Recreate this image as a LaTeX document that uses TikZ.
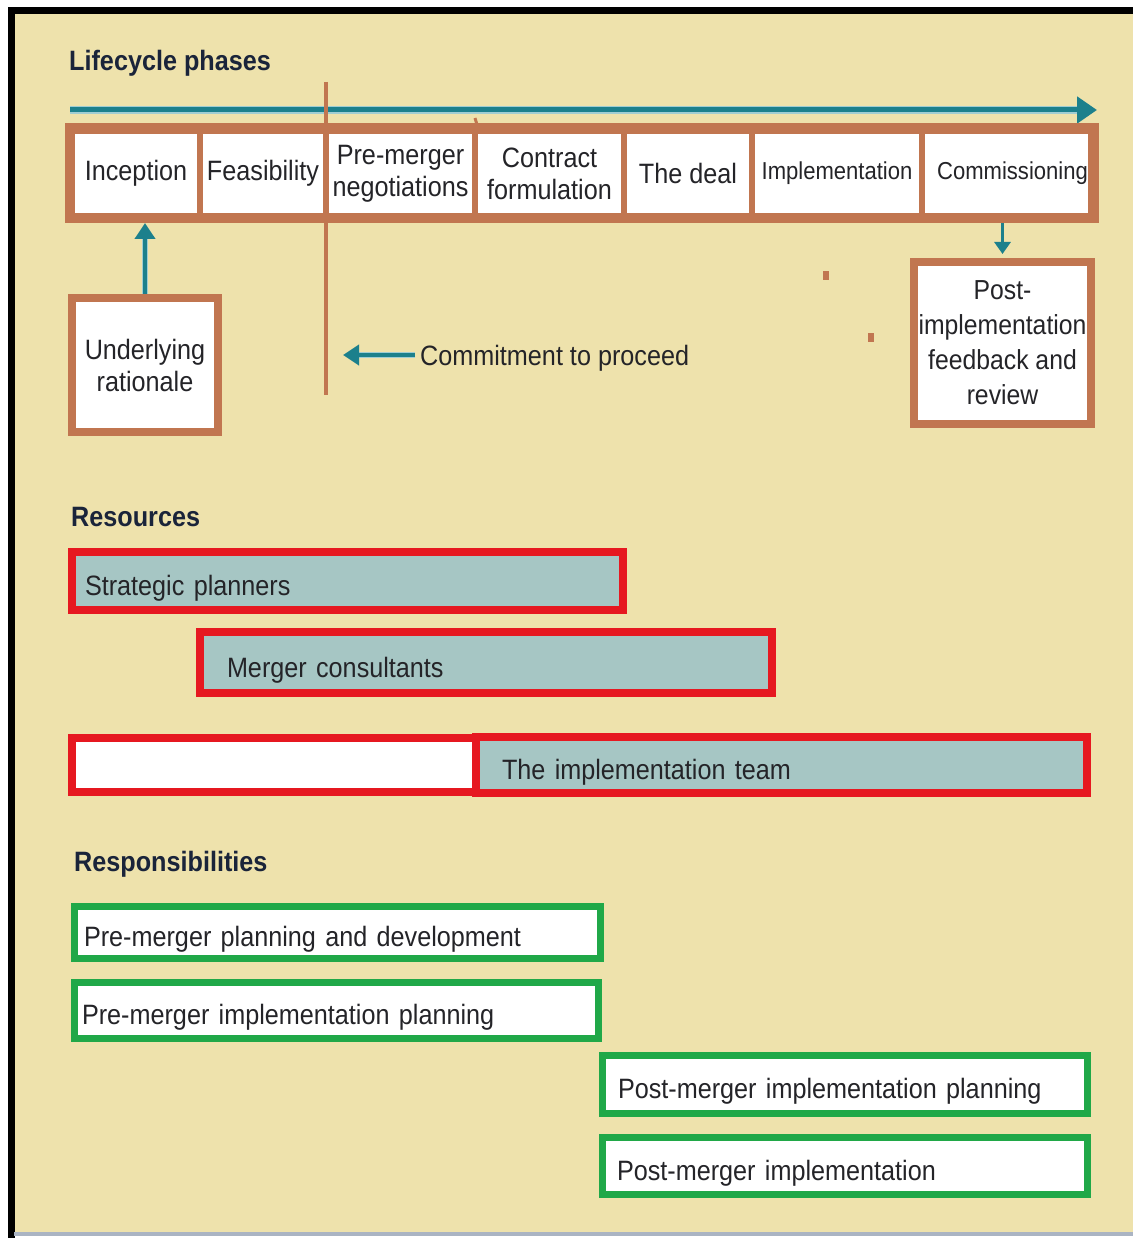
\documentclass[tikz,border=0pt]{standalone}
\usepackage{fontspec}
\setmainfont[FakeStretch=0.9]{Liberation Sans}
\usetikzlibrary{arrows.meta}
\definecolor{beige}{RGB}{238,226,172}
\definecolor{brownc}{RGB}{193,118,80}
\definecolor{tealc}{RGB}{28,128,140}
\definecolor{tealhalo}{RGB}{160,205,210}
\definecolor{redc}{RGB}{230,24,32}
\definecolor{barfill}{RGB}{166,198,196}
\definecolor{greenc}{RGB}{32,168,72}
\definecolor{txt}{RGB}{36,36,40}
\definecolor{headc}{RGB}{26,36,58}
\definecolor{bottomc}{RGB}{170,180,195}
\begin{document}
\begin{tikzpicture}[x=1pt,y=-1pt,
  head/.style={anchor=west, inner sep=0pt, text=headc, font=\fontsize{28}{32}\selectfont\bfseries},
  phase/.style={draw=brownc, line width=6pt, fill=white, minimum height=85pt, inner sep=1pt,
    align=center, text=txt, font=\fontsize{28}{32}\selectfont},
  bbox/.style={draw=brownc, line width=8pt, fill=white, inner sep=0pt,
    align=center, text=txt, font=\fontsize{28}{32}\selectfont},
  lbl/.style={inner sep=0pt, text=txt, font=\fontsize{28}{32}\selectfont},
  halo/.style={tealhalo, line width=8pt},
  tarrow/.style={tealc, line width=4pt, -{Triangle[length=16pt,width=20pt]}},
  resbar/.style={draw=redc, line width=8pt, fill=barfill, align=left, inner ysep=0pt,
    text height=29pt, text depth=0pt, text=txt, font=\fontsize{28}{32}\selectfont},
  respbox/.style={draw=greenc, line width=7pt, fill=white, align=left, inner ysep=0pt,
    text height=29pt, text depth=0pt, text=txt, font=\fontsize{28}{32}\selectfont},
  dotmark/.style={fill=brownc, minimum width=6pt, minimum height=9pt, inner sep=0pt}
]
\useasboundingbox (0,0) rectangle (1133,1238);
\fill[white] (0,0) rectangle (1133,1238);
\fill[beige] (12,12) rectangle (1133,1232);
\draw[black, line width=7pt] (11,1238) -- (11,10.5) -- (1133,10.5);
\draw[bottomc, line width=4pt] (14,1234) -- (1133,1234);

% headings
\node[head] (hlife) at (69,63) {Lifecycle phases};
\node[head] (hres) at (71,517) {Resources};
\node[head] (hresp) at (74,864) {Responsibilities};

% timeline arrow
\coordinate (tlA) at (70,110);
\coordinate (tlB) at (1097,110);
\draw[halo] (tlA) -- ([xshift=-16pt]tlB);
\draw[tealc, line width=5pt, -{Triangle[length=20pt,width=26pt]}] (tlA) -- (tlB);

% phase cells
\node[phase, minimum width=128pt] (inc) at (136,173.5) {Inception};
\node[phase, minimum width=126pt] (fea) at (263,173.5) {Feasibility};
\node[phase, minimum width=149pt] (pre) at (400.5,173.5) {Pre-merger\\negotiations};
\node[phase, minimum width=149pt] (con) at (549.5,173.5) {Contract\\formulation};
\node[phase, minimum width=128pt] (dea) at (688,173.5) {The deal};
\node[phase, minimum width=170pt, font=\fontsize{24.5}{28}\selectfont] (imp) at (837,173.5) {Implementation};
\node[phase, minimum width=169pt, font=\fontsize{24.5}{28}\selectfont] (com) at (1006.5,173.5) {\hspace*{12pt}Commissioning};
\draw[brownc, line width=9pt] (inc.north west) rectangle (com.south east);

% commitment line
\coordinate (ctop) at (326,82);
\coordinate (cbot) at (326,395);
\draw[brownc, line width=4pt] (ctop) -- (cbot);
\coordinate (mk) at (475,118);
\draw[brownc, line width=3pt] (mk) -- (pre.north east);

% underlying rationale
\node[bbox, minimum width=146pt, minimum height=134pt] (und) at (145,365) {Underlying\\rationale};
\draw[halo, line width=6pt, shorten >=18pt] (und.north) -- (und.north |- inc.south);
\draw[tarrow, shorten >=4pt] (und.north) -- (und.north |- inc.south);

% commitment label
\node[lbl, anchor=west] (cmt) at (420,358) {Commitment to proceed};
\coordinate (cpt) at (343,355);
\draw[halo, line width=6pt, shorten >=14pt] ([xshift=-5pt]cmt.west |- cpt) -- (cpt);
\draw[tarrow] ([xshift=-5pt]cmt.west |- cpt) -- (cpt);

% post-implementation box
\node[bbox, minimum width=177pt, minimum height=162pt, font=\fontsize{27.5}{35}\selectfont] (post) at (1002.5,343) {Post-\\implementation\\feedback and\\review};
\draw[tarrow, line width=3pt, -{Triangle[length=12pt,width=16pt]}, shorten <=4pt, shorten >=4pt] (post.north |- com.south) -- (post.north);

% small marks
\node[dotmark] (d1) at (826,276) {};
\node[dotmark] (d2) at (871,337) {};

% resources
\node[resbar, text width=525pt, inner xsep=13pt, minimum height=58pt] (sp) at (347.5,581) {Strategic planners};
\node[resbar, text width=518pt, inner xsep=27pt, minimum height=61pt] (mc) at (486,662.5) {Merger consultants};
\node[resbar, fill=white, minimum width=404pt, minimum height=54pt, inner sep=0pt] (itw) at (274,765) {};
\node[resbar, text width=559pt, inner xsep=26pt, minimum height=56pt] (itm) at (781.5,765) {The implementation team};

% responsibilities
\node[respbox, text width=506pt, inner xsep=10pt, minimum height=52pt] (r1) at (337,932) {Pre-merger planning and development};
\node[respbox, text width=508pt, inner xsep=8pt, minimum height=56pt] (r2) at (336,1010) {Pre-merger implementation planning};
\node[respbox, text width=453pt, inner xsep=16pt, minimum height=58pt] (r3) at (844.5,1084) {Post-merger implementation planning};
\node[respbox, text width=455pt, inner xsep=15pt, minimum height=57pt] (r4) at (844.5,1165.5) {Post-merger implementation};
\end{tikzpicture}
\end{document}
